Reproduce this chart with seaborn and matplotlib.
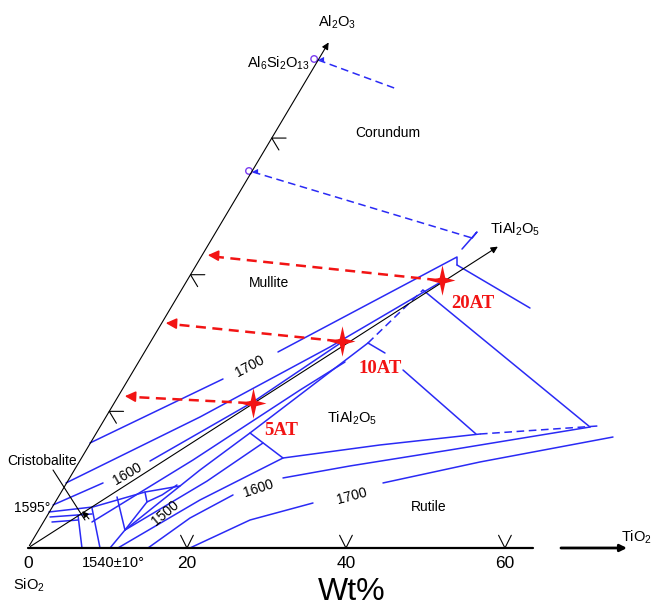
import numpy as np
import pandas as pd
import matplotlib
matplotlib.use("Agg")
import matplotlib.pyplot as plt
from matplotlib.path import Path
from matplotlib.markers import MarkerStyle
import seaborn as sns

# Composition plane in wt% units: SiO2 corner at the origin,
# SiO2-TiO2 edge along x, Al2O3 edge tilted (ternary-like sketch).

# --- liquidus / boundary curves (solid blue) ---
a1_low = [(7.8, 13.21), (24.53, 21.26)]
a1_high = [(31.45, 24.66), (53.97, 36.61), (53.97, 35.60)]
r1 = [(53.97, 35.60), (63.15, 30.19)]
a2 = [(4.78, 8.18), (21.64, 16.48), (37.99, 25.29), (52.58, 33.84)]
a3_low = [(3.15, 5.41), (9.44, 8.18)]
a3_high = [(15.35, 10.94), (28.31, 18.37), (39.50, 25.91)]
e1 = [(8.05, 3.27), (20.76, 11.07), (34.22, 19.87), (39.88, 23.40)]
e2 = [(12.20, 2.26), (21.64, 9.81), (27.93, 14.47), (42.77, 25.79)]
e3 = [(12.20, 2.26), (22.5, 8.4), (29.56, 13.21)]
r2 = [(49.69, 32.46), (70.70, 15.22)]
r3_low = [(42.77, 25.79), (44.91, 24.53)]
r3_high = [(47.18, 22.39), (56.36, 14.34)]
r4 = [(27.93, 14.47), (32.08, 11.32)]
t1 = [(11.32, 0.0), (21.64, 6.04), (32.08, 11.32), (44.28, 12.96), (56.86, 14.34)]
t2_low = [(15.10, 0.0), (20.38, 3.77), (25.79, 6.67)]
t2_high = [(32.08, 8.81), (40.51, 10.32), (53.09, 12.33), (70.70, 15.22)]
t3_low = [(20.38, 0.0), (27.93, 3.52), (35.85, 5.66)]
t3_high = [(44.66, 8.18), (56.86, 10.82), (73.59, 13.96)]
c1 = [(2.64, 4.53), (8.18, 5.16), (14.72, 7.04), (19.12, 7.80)]
c2 = [(2.77, 3.90), (8.05, 4.28)]
c3 = [(3.02, 3.27), (6.29, 3.52)]
v1 = [(6.29, 4.15), (6.79, 0.0)]
v2 = [(8.05, 5.03), (9.06, 0.0)]
v3 = [(11.20, 6.42), (12.20, 2.26), (10.32, 0.0)]
v4 = [(14.72, 7.04), (14.97, 5.79), (16.86, 6.67), (18.74, 7.93)]
j1 = [(12.20, 2.26), (14.97, 5.79)]
kink = [(55.86, 39.00), (56.48, 39.75), (54.60, 37.61)]

# --- dashed blue curves ---
td1 = [(36.5, 61.39), (46.42, 57.74)]
td2 = [(28.3, 47.30), (55.86, 39.00)]
e2_dash = [(42.77, 25.79), (49.69, 32.46)]
t1_dash = [(56.86, 14.34), (71.71, 15.35)]

compound_x = [36.0, 27.8]
compound_y = [61.52, 47.43]

# --- samples (red stars) and their projections on the Al2O3 edge ---
sample_names = ["5AT", "10AT", "20AT"]
sample_x = [28.31, 39.50, 52.08]
sample_y = [18.24, 26.04, 33.71]
proj_x = [11.83, 16.98, 22.27]
proj_y = [19.12, 28.31, 36.86]
label_x = [31.83, 44.28, 55.98]
label_y = [14.84, 22.64, 30.82]

# --- axes of the diagram ---
base_end = 75.7
al_axis_end = (38.0, 63.9)
tial_axis_end = (59.4, 38.1)
wt_ticks = [20, 40, 60]

# isotherm labels: text, x, y, rotation
iso_labels = [("1700", 27.93, 22.90, 28), ("1600", 12.45, 9.31, 30),
              ("1500", 17.23, 4.40, 40), ("1600", 28.93, 7.55, 18),
              ("1700", 40.76, 6.54, 15)]

BLUE = "#2a2af5"
RED = "#f21414"

sns.set_theme(style="white")
plt.rcParams["font.family"] = ["Liberation Sans", "DejaVu Sans"]
plt.rcParams["mathtext.default"] = "regular"
plt.rcParams["text.color"] = "black"

fig = plt.figure(figsize=(6.52, 6.08), dpi=100)
ax = fig.add_axes([0, 0, 1, 1])
ax.set_xlim(-3.52, 78.50)
ax.set_ylim(-7.55, 68.94)
ax.axis("off")


def to_frame(curves):
    rows = []
    for name, pts in curves.items():
        for i, (x, y) in enumerate(pts):
            rows.append({"curve": name, "order": i, "x": x, "y": y})
    return pd.DataFrame(rows)


solid = {"a1_low": a1_low, "a1_high": a1_high, "r1": r1, "a2": a2,
         "a3_low": a3_low, "a3_high": a3_high, "e1": e1, "e2": e2, "e3": e3,
         "r2": r2, "r3_low": r3_low, "r3_high": r3_high, "r4": r4, "t1": t1,
         "t2_low": t2_low, "t2_high": t2_high, "t3_low": t3_low,
         "t3_high": t3_high, "c1": c1, "c2": c2, "c3": c3, "v1": v1,
         "v2": v2, "v3": v3, "v4": v4, "j1": j1, "kink": kink}
dashed = {"td1": td1, "td2": td2, "e2_dash": e2_dash, "t1_dash": t1_dash}

sns.lineplot(data=to_frame(solid), x="x", y="y", units="curve", estimator=None,
             sort=False, color=BLUE, lw=1.1, ax=ax, legend=False)
sns.lineplot(data=to_frame(dashed), x="x", y="y", units="curve", estimator=None,
             sort=False, color=BLUE, lw=1.1, linestyle=(0, (5, 3)), ax=ax,
             legend=False)

# diagram axes (black)
arrow_kw = dict(arrowstyle="-|>", color="black", mutation_scale=10)
ax.plot([0, 63.5], [0, 0], color="black", lw=1.6)
ax.annotate("", xy=(base_end, 0), xytext=(66.7, 0),
            arrowprops=dict(arrow_kw, lw=2.0))
ax.annotate("", xy=al_axis_end, xytext=(0, 0), arrowprops=dict(arrow_kw, lw=0.8))
ax.annotate("", xy=tial_axis_end, xytext=(0, 0),
            arrowprops=dict(arrow_kw, lw=0.8))

# ticks: V marks on the base, "<" marks on the Al2O3 edge
u = np.array(al_axis_end) / np.hypot(*al_axis_end)
for w in wt_ticks:
    ax.plot([w - 0.8, w, w + 0.8], [1.6, 0, 1.6], color="black", lw=0.8)
    vx, vy = w * u
    ax.plot([vx + 1.8, vx, vx + 0.9], [vy, vy, vy - 1.5], color="black", lw=0.8)
    ax.text(w, -1.9, str(w), ha="center", va="center", fontsize=12.5)
ax.text(0.0, -1.9, "0", ha="center", va="center", fontsize=12.5)

# cristobalite pointer
ax.plot([3.15, 7.17], [9.81, 3.52], color="black", lw=0.8)
ax.annotate("", xy=(6.6, 4.9), xytext=(7.9, 3.4),
            arrowprops=dict(arrowstyle="-|>", color="black", lw=0.8,
                            mutation_scale=9))

# compounds on the Al2O3 edge
sns.scatterplot(x=compound_x, y=compound_y, s=22, facecolor="none",
                edgecolor="#7a3cf0", linewidth=1.0, ax=ax, legend=False)
sns.scatterplot(x=[c + 0.8 for c in compound_x], y=compound_y, marker="<",
                s=14, color=BLUE, linewidth=0, ax=ax, legend=False)

# red projection arrows
for sx, sy, px, py in zip(sample_x, sample_y, proj_x, proj_y):
    ax.plot([sx - 0.6, px + 1.2], [sy, py - 0.07 * (sx - px) / 10], color=RED,
            lw=1.8, linestyle=(0, (4, 2.6)))
    ax.annotate("", xy=(px, py), xytext=(px + 2.0, py - 0.1),
                arrowprops=dict(arrowstyle="-|>", color=RED, lw=1.2,
                                mutation_scale=16))

# four-point stars
star = Path([(0, 1), (0.18, 0.18), (0.85, 0), (0.18, -0.18), (0, -1),
             (-0.18, -0.18), (-0.85, 0), (-0.18, 0.18), (0, 1)],
            [Path.MOVETO] + [Path.LINETO] * 7 + [Path.CLOSEPOLY])
sns.scatterplot(x=sample_x, y=sample_y, marker=MarkerStyle(star), s=480,
                color=RED, linewidth=0, ax=ax, legend=False, zorder=5)
for name, lx, ly in zip(sample_names, label_x, label_y):
    ax.text(lx, ly, name, color=RED, fontsize=13.5, fontweight="bold",
            family=["Liberation Serif", "DejaVu Serif"], ha="center",
            va="center")

# isotherm labels
for txt, x, y, rot in iso_labels:
    ax.text(x, y, txt, rotation=rot, ha="center", va="center", fontsize=10,
            rotation_mode="anchor")

# phase and end-member labels
ax.text(38.87, 66.17, "$Al_2O_3$", ha="center", va="center", fontsize=10.5)
ax.text(31.57, 61.02, "$Al_6Si_2O_{13}$", ha="center", va="center",
        fontsize=10.5)
ax.text(45.29, 52.21, "Corundum", ha="center", va="center", fontsize=10)
ax.text(30.32, 33.34, "Mullite", ha="center", va="center", fontsize=10)
ax.text(61.26, 40.13, "$TiAl_2O_5$", ha="center", va="center", fontsize=10.5)
ax.text(40.76, 16.35, "$TiAl_2O_5$", ha="center", va="center", fontsize=10.5)
ax.text(76.5, 1.38, "$TiO_2$", ha="center", va="center", fontsize=10.5)
ax.text(50.45, 5.16, "Rutile", ha="center", va="center", fontsize=10)
ax.text(1.76, 10.94, "Cristobalite", ha="center", va="center", fontsize=10)
ax.text(0.5, 5.03, "1595°", ha="center", va="center", fontsize=10)
ax.text(10.69, -1.89, "1540±10°", ha="center", va="center", fontsize=10.5)
ax.text(0.13, -4.65, "$SiO_2$", ha="center", va="center", fontsize=10.5)
ax.text(40.76, -5.6, "Wt%", ha="center", va="center", fontsize=23)

fig.savefig("out.png", dpi=100)
